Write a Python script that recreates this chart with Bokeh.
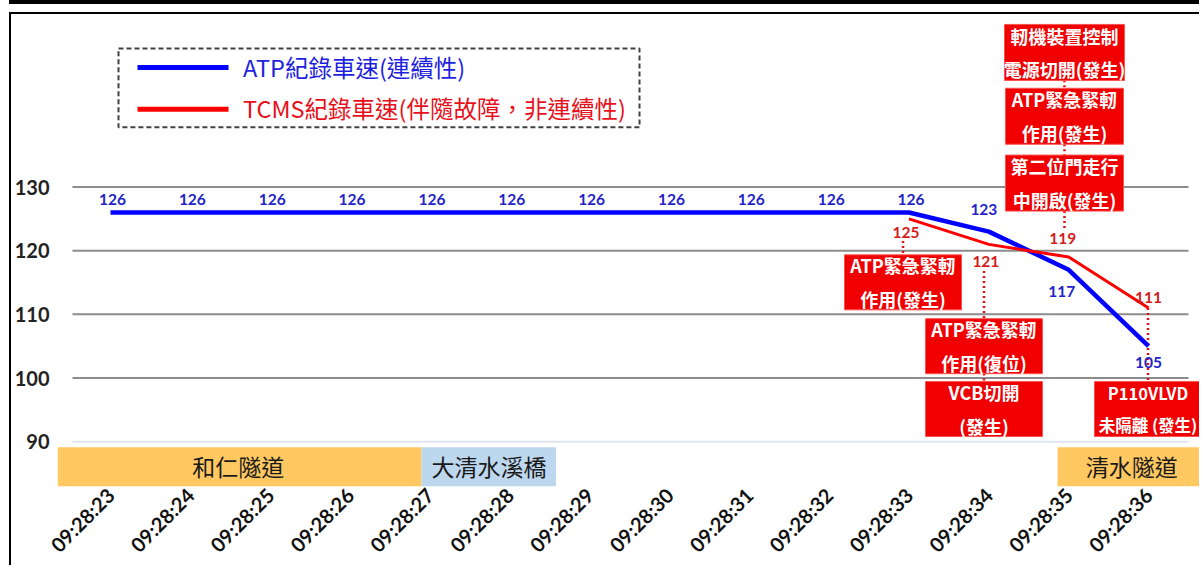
import math
from bokeh.plotting import figure
from bokeh.models import Range1d, FixedTicker
from bokeh.embed import file_html
from bokeh.resources import INLINE
from bokeh.core.properties import value

# ---------------- data ----------------
times = ["09:28:23", "09:28:24", "09:28:25", "09:28:26", "09:28:27", "09:28:28", "09:28:29",
         "09:28:30", "09:28:31", "09:28:32", "09:28:33", "09:28:34", "09:28:35", "09:28:36"]
atp_speed = [126, 126, 126, 126, 126, 126, 126, 126, 126, 126, 126, 123, 117, 105]
tcms_times = ["09:28:33", "09:28:34", "09:28:35", "09:28:36"]
tcms_speed = [125, 121, 119, 111]
y_ticks = [90, 100, 110, 120, 130]
series_names = ["ATP紀錄車速(連續性)", "TCMS紀錄車速(伴隨故障，非連續性)"]
sections = ["和仁隧道", "大清水溪橋", "清水隧道"]
events = ["ATP緊急緊軔\n作用(發生)", "ATP緊急緊軔\n作用(復位)", "VCB切開\n(發生)",
          "P110VLVD\n未隔離 (發生)", "第二位門走行\n中開啟(發生)", "ATP緊急緊軔\n作用(發生)",
          "軔機裝置控制\n電源切開(發生)"]

# ---------------- layout / style ----------------
FONT = "Noto Sans CJK TC"
NUMFONT = "Lato"
BLUE = "#0000FF"
RED = "#FF0000"
idx = {t: i for i, t in enumerate(times)}
x_atp = [idx[t] for t in times]
x_tcms = [idx[t] for t in tcms_times]

p = figure(width=1190, height=553, output_backend="svg", toolbar_location=None,
           x_range=Range1d(-0.664, 13.663), y_range=Range1d(82.48, 157.12),
           min_border_left=46, min_border_right=0, min_border_top=0, min_border_bottom=77,
           styles={"border-left": "2px solid #000", "border-top": "2px solid #000",
                   "box-shadow": "0 -8px 0 0 #fff, 0 -12px 0 0 #000"})
p.margin = (12, 0, 0, 9)
p.outline_line_color = None
p.xgrid.visible = False
p.ygrid.visible = False
p.background_fill_color = "white"
p.border_fill_color = "white"

# axes
p.yaxis.ticker = FixedTicker(ticks=y_ticks)
p.yaxis.axis_line_color = None
p.yaxis.major_tick_line_color = None
p.yaxis.minor_tick_line_color = None
p.yaxis.major_tick_out = 0
p.yaxis.major_tick_in = 0
p.yaxis.major_label_standoff = 8
p.yaxis.major_label_text_font = NUMFONT
p.yaxis.major_label_text_font_size = "20px"
p.yaxis.major_label_text_font_style = "bold"
p.yaxis.major_label_text_color = "#222222"

p.xaxis.ticker = FixedTicker(ticks=x_atp)
p.xaxis.major_label_overrides = {i: t for i, t in zip(x_atp, times)}
p.xaxis.major_label_orientation = math.pi / 4
p.xaxis.axis_line_color = None
p.xaxis.major_tick_line_color = None
p.xaxis.minor_tick_line_color = None
p.xaxis.major_tick_out = 0
p.xaxis.major_tick_in = 0
p.xaxis.major_label_standoff = 2
p.xaxis.major_label_text_font = NUMFONT
p.xaxis.major_label_text_font_size = "20px"
p.xaxis.major_label_text_font_style = "bold"
p.xaxis.major_label_text_color = "#111111"

# grid lines
grid_colors = ["#dfe5ee", "#8c8c8c", "#8c8c8c", "#8c8c8c", "#8c8c8c"]
p.segment(x0=[-0.476] * len(y_ticks), x1=[13.5] * len(y_ticks), y0=y_ticks, y1=y_ticks,
          line_color=grid_colors, line_width=2)

# section bands
sec_left = [-0.664, 3.895, 11.86]
sec_right = [3.895, 5.58, 13.8]
sec_colors = ["#FFC861", "#BDD7EE", "#FFC861"]
sec_text_x = [1.60, 4.74, 12.79]
p.quad(left=sec_left, right=sec_right, bottom=[83.0] * 3, top=[89.1] * 3,
       fill_color=sec_colors, line_color=None)
p.text(x=sec_text_x, y=[86.1] * 3, text=sections, text_font=value(FONT),
       text_font_size="23px", text_align="center", text_baseline="middle", text_color="#1a1a1a")

# legend box
p.quad(left=[0.10], right=[6.625], bottom=[139.40], top=[151.79], fill_color=None,
       line_color="#404040", line_width=2, line_dash="5 3")
p.segment(x0=[0.338, 0.338], x1=[1.478, 1.478], y0=[148.81, 142.23], y1=[148.81, 142.23],
          line_color=[BLUE, RED], line_width=5)
p.text(x=[1.66, 1.66], y=[148.81, 142.40], text=series_names, text_font=value(FONT),
       text_font_size="23.5px", text_align="left", text_baseline="middle",
       text_color=["#1f1fe0", "#e8101a"])

# connector dotted lines
con_x = [9.925, 10.939, 10.939, 11.947, 11.947, 11.947, 12.993]
con_y0 = [121.54, 116.83, 100.69, 126.24, 136.74, 146.77, 111.0]
con_y1 = [119.34, 109.31, 99.44, 123.57, 135.02, 145.52, 99.44]
p.segment(x0=con_x, x1=con_x, y0=con_y0, y1=con_y1, line_color="#e01010",
          line_width=2.5, line_dash="2 3")

# series lines
p.line(x_atp, atp_speed, line_color=BLUE, line_width=4.5, line_join="round")
p.line(x_tcms, tcms_speed, line_color=RED, line_width=3, line_join="round")

# value labels
atp_dx = [2, 2, 2, 2, 2, 2, 2, 2, 2, 2, 2, -5, -7, 0]
atp_dy = [-13.5, -13.5, -13.5, -13.5, -13.5, -13.5, -13.5, -13.5, -13.5, -13.5, -13.5, -22, 22, 16]
p.text(x=x_atp, y=atp_speed, text=[str(v) for v in atp_speed], x_offset=atp_dx, y_offset=atp_dy,
       text_font=value(NUMFONT), text_font_size="15.5px", text_font_style="bold",
       text_align="center", text_baseline="middle", text_color="#2323c8")
tcms_dx = [-3, -3, -6, 0]
tcms_dy = [14, 17, -19, -11]
p.text(x=x_tcms, y=tcms_speed, text=[str(v) for v in tcms_speed], x_offset=tcms_dx,
       y_offset=tcms_dy, text_font=value(NUMFONT), text_font_size="15.5px", text_font_style="bold",
       text_align="center", text_baseline="middle", text_color="#d41c1c")

# event boxes
box_x = [9.925, 10.939, 10.939, 12.993, 11.947, 11.947, 11.947]
box_y = [115.03, 105.0, 95.13, 95.13, 130.63, 141.13, 151.16]
box_w = [117, 117, 117, 107, 118, 118, 120]
box_h = [55, 55, 55, 55, 56, 56, 56]
box_fs = ["18px", "18px", "18px", "16.5px", "18px", "18px", "18px"]
p.rect(x=box_x, y=box_y, width=box_w, height=box_h, width_units="screen", height_units="screen",
       fill_color="#F00000", line_color="#ff5050", line_width=1)
p.text(x=box_x, y=box_y, text=events, text_font=value(FONT), text_font_size=box_fs,
       text_font_style="bold", text_color="white", text_align="center", text_baseline="middle",
       text_line_height=1.3)

open("out.html", "w").write(file_html(p, INLINE))
